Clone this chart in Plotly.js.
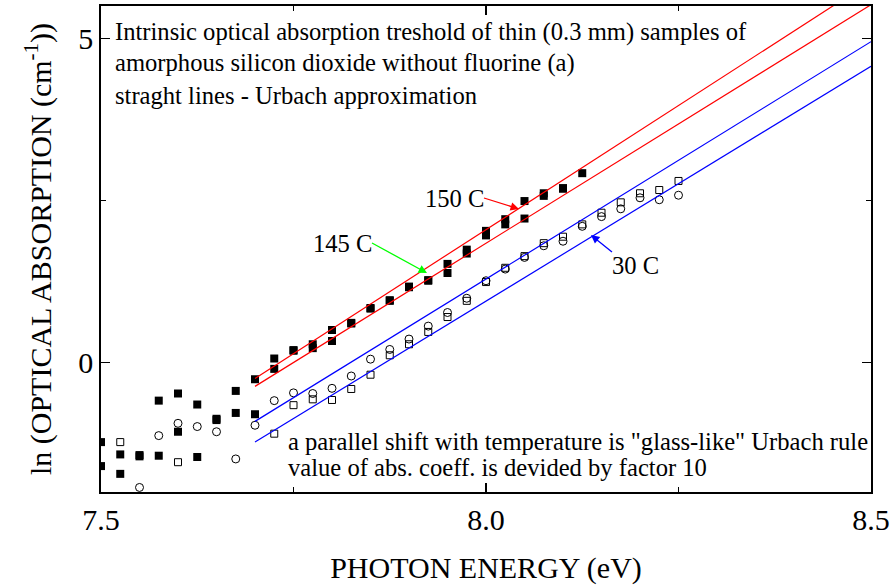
<!DOCTYPE html>
<html>
<head>
<meta charset="utf-8">
<script src="https://cdn.plot.ly/plotly-3.0.1.min.js"></script>
<style>html,body{margin:0;padding:0;background:#fff;}#chart{width:891px;height:587px;}</style>
</head>
<body>
<div id="chart"></div>
<script>
// Photon energies (eV)
const energy = [7.500,7.525,7.550,7.575,7.600,7.625,7.650,7.675,7.700,7.725,7.750,7.775,7.800,7.825,7.850,7.875,7.900,7.925,7.950,7.975,8.000,8.025,8.050,8.075,8.100,8.125,8.150,8.175,8.200,8.225,8.250];

// ln(absorption) – filled squares, 150 C
const abs150 = [-1.23,-1.42,-1.43,-0.59,-0.48,-0.65,-0.87,-0.44,-0.26,0.06,0.19,0.28,0.50,0.61,0.84,0.96,1.17,1.27,1.52,1.74,2.03,2.21,2.49,2.61,2.69,2.92,null,null,null,null,null];
// ln(absorption) – filled squares, 145 C
const abs145 = [-1.60,-1.72,-1.45,-1.44,-1.07,-1.46,-0.89,-0.78,-0.80,-0.10,0.18,0.22,0.33,0.60,0.83,0.95,1.16,1.26,1.38,1.68,1.96,2.13,2.22,2.57,2.68,null,null,null,null,null,null];
// ln(absorption) – open circles, 30 C
const abs30c = [null,null,-1.93,-1.13,-0.94,-0.99,-1.07,-1.49,-0.97,-0.59,-0.47,-0.48,-0.40,-0.21,0.05,0.20,0.36,0.56,0.77,0.99,1.26,1.44,1.62,1.80,1.87,2.10,2.25,2.37,2.54,2.51,2.58];
// ln(absorption) – open squares, 30 C
const abs30s = [null,-1.23,null,null,-1.54,null,null,null,null,-1.10,-0.66,-0.57,-0.58,-0.41,-0.19,0.11,0.28,0.47,0.70,0.95,1.24,1.46,1.64,1.84,1.94,2.13,2.31,2.47,2.61,2.66,2.80];

// Urbach approximation lines (end points)
const urbachX = [7.70, 8.50];
const urbach150 = [-0.25, 5.88];
const urbach145 = [-0.37, 5.52];
const urbach30a = [-0.91, 4.95];
const urbach30b = [-1.23, 4.57];

const FONT = "'Liberation Serif', 'Times New Roman', serif";

const traces = [
  {x: energy, y: abs150, name: '150 C', type: 'scatter', mode: 'markers',
   marker: {symbol: 'square', size: 8, color: '#000'}},
  {x: energy, y: abs145, name: '145 C', type: 'scatter', mode: 'markers',
   marker: {symbol: 'square', size: 8, color: '#000'}},
  {x: energy, y: abs30c, name: '30 C (circles)', type: 'scatter', mode: 'markers',
   marker: {symbol: 'circle-open', size: 8, color: '#000', line: {width: 1, color: '#000'}}},
  {x: energy, y: abs30s, name: '30 C (squares)', type: 'scatter', mode: 'markers',
   marker: {symbol: 'square-open', size: 7, color: '#000', line: {width: 1, color: '#000'}}},
  {x: urbachX, y: urbach150, name: 'Urbach 150 C', type: 'scatter', mode: 'lines',
   line: {color: '#ff0000', width: 1.2}},
  {x: urbachX, y: urbach145, name: 'Urbach 145 C', type: 'scatter', mode: 'lines',
   line: {color: '#ff0000', width: 1.2}},
  {x: urbachX, y: urbach30a, name: 'Urbach 30 C (a)', type: 'scatter', mode: 'lines',
   line: {color: '#0000ff', width: 1.2}},
  {x: urbachX, y: urbach30b, name: 'Urbach 30 C (b)', type: 'scatter', mode: 'lines',
   line: {color: '#0000ff', width: 1.2}}
];

// pixel helpers for paper coordinates of the plot area
const L = 101, R = 871, T = 6, B = 492;
function px(x){ return (x - L) / (R - L); }
function py(y){ return (B - y) / (B - T); }

function txt(text, x, y, size){
  return {text: text, xref: 'paper', yref: 'paper', x: px(x), y: py(y),
          xanchor: 'left', yanchor: 'middle', showarrow: false,
          font: {family: FONT, size: size || 24.6, color: '#000'}};
}
// label with arrow: head at (hx,hy), label box anchored at tail (tx,ty)
function label(text, color, hx, hy, tx, ty, xa, ya){
  return {text: text, xref: 'paper', yref: 'paper', x: px(hx), y: py(hy),
          ax: tx - hx, ay: ty - hy, xanchor: xa, yanchor: ya,
          showarrow: true, arrowcolor: color,
          arrowhead: 2, arrowsize: 1.3, arrowwidth: 1.3, standoff: 0, startstandoff: 0,
          borderpad: 0, borderwidth: 0,
          font: {family: FONT, size: 24.6, color: '#000'}};
}

const layout = {
  width: 891, height: 587,
  margin: {l: L, r: 891 - R, t: T, b: 587 - B},
  paper_bgcolor: '#fff', plot_bgcolor: '#fff',
  showlegend: false,
  font: {family: FONT, color: '#000', size: 30},
  xaxis: {
    range: [7.5, 8.5], tick0: 7.5, dtick: 0.5, tickformat: '.1f',
    ticks: 'inside', ticklen: 9, tickwidth: 1.5, tickcolor: '#000',
    minor: {dtick: 0.25, ticks: 'inside', ticklen: 5, tickwidth: 1.5, tickcolor: '#000'},
    showline: true, linewidth: 1.8, linecolor: '#000', mirror: 'ticks',
    showgrid: false, zeroline: false,
    tickfont: {family: FONT, size: 30, color: '#000'},
    title: {text: 'PHOTON ENERGY (eV)', font: {family: FONT, size: 30, color: '#000'}, standoff: 22}
  },
  yaxis: {
    range: [-2, 5.5], tick0: 0, dtick: 5,
    ticks: 'inside', ticklen: 9, tickwidth: 1.5, tickcolor: '#000',
    minor: {dtick: 2.5, ticks: 'inside', ticklen: 5, tickwidth: 1.5, tickcolor: '#000'},
    showline: true, linewidth: 1.8, linecolor: '#000', mirror: 'ticks',
    showgrid: false, zeroline: false,
    tickfont: {family: FONT, size: 30, color: '#000'},
    title: {text: 'ln (OPTICAL ABSORPTION (cm<sup>-1</sup>))', font: {family: FONT, size: 30, color: '#000'}, standoff: 18}
  },
  annotations: [
    txt('Intrinsic optical absorption treshold of thin (0.3 mm) samples of', 113, 32),
    txt('amorphous silicon dioxide without fluorine (a)', 113, 63),
    txt('straght lines - Urbach approximation', 113, 95),
    txt('a parallel shift with temperature is "glass-like" Urbach rule', 286, 441),
    txt('value of abs. coeff. is devided by factor 10', 286, 467),
    label('150 C', '#ff0000', 519, 209, 484, 198, 'right', 'middle'),
    label('145 C', '#00ff00', 427, 273, 372, 243, 'right', 'middle'),
    label('30 C', '#0000ff', 591, 235, 612, 252, 'left', 'top')
  ]
};

Plotly.newPlot('chart', traces, layout, {displayModeBar: false, staticPlot: true});
</script>
</body>
</html>
